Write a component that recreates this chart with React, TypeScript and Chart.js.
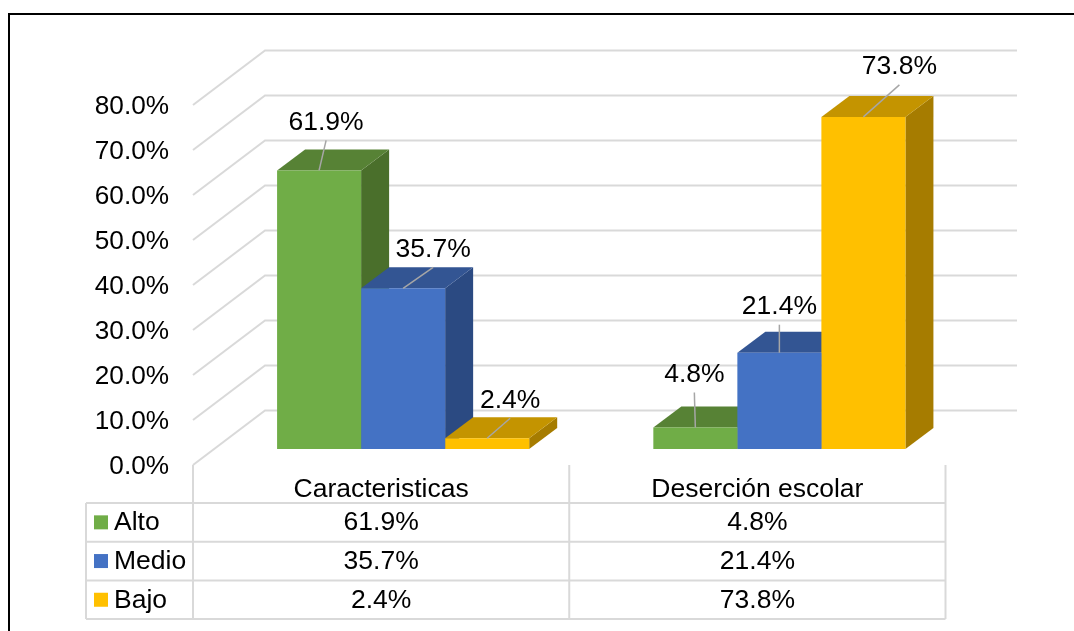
import React, { useEffect, useRef } from "react";
import { Chart, registerables } from "chart.js";

Chart.register(...registerables);

const categories = ["Caracteristicas", "Deserción escolar"];
const seriesNames = ["Alto", "Medio", "Bajo"];
const alto = [61.9, 4.8];
const medio = [35.7, 21.4];
const bajo = [2.4, 73.8];
const frontColors = ["#70AD47", "#4472C4", "#FFC000"];
const topColors = ["#578235", "#335593", "#C49400"];
const sideColors = ["#4A6F2B", "#2B4A82", "#A67C00"];

const FONT = '"Liberation Sans", Arial, sans-serif';
const FONT_SIZE = 26.5;
const TICK_FONT_SIZE = 26.2;
const LABEL_DY = 1;
const TABLE_DY = 0.8;
const GRID = "#D9D9D9";
const WALL = { dx: 72, dy: -54.5 };
const BAR_SHIFT = { dx: 22, dy: -16 };
const BAR_DEPTH = { dx: 28, dy: -21 };
const WALL_RIGHT = 1017;
const TABLE = { left: 86, top: 503, rowH: 38.7, axisLeft: 193, right: 945.5, keyX: 94, key: 14, textX: 114 };
// label-centre offsets from each bar's top-front centre: [series][category]
const labelOffsets = [
  [[7, -49], [-1, -54]],
  [[30, -40], [0, -47]],
  [[23, -39], [36, -51]],
];

const fmt = (v: number) => v.toFixed(1) + "%";

const plugin3d = {
  id: "plugin3d",
  beforeDraw(chart: any) {
    const { ctx, width, height } = chart;
    ctx.save();
    ctx.fillStyle = "#fff";
    ctx.fillRect(0, 0, width, height);
    ctx.strokeStyle = "#000";
    ctx.lineWidth = 2;
    ctx.beginPath();
    ctx.moveTo(9, height);
    ctx.lineTo(9, 14);
    ctx.lineTo(width, 14);
    ctx.stroke();
    ctx.restore();
  },
  beforeDatasetsDraw(chart: any) {
    const { ctx, chartArea, scales } = chart;
    ctx.save();
    ctx.strokeStyle = GRID;
    ctx.lineWidth = 2;
    scales.y.ticks.forEach((t: any) => {
      const y = scales.y.getPixelForValue(t.value);
      ctx.beginPath();
      ctx.moveTo(chartArea.left, y);
      ctx.lineTo(chartArea.left + WALL.dx, y + WALL.dy);
      ctx.lineTo(WALL_RIGHT, y + WALL.dy);
      ctx.stroke();
    });
    ctx.restore();

    // side and top faces of every bar, behind all of the front faces
    ctx.save();
    ctx.translate(BAR_SHIFT.dx, BAR_SHIFT.dy);
    chart.data.datasets.forEach((_: any, i: number) => {
      chart.getDatasetMeta(i).data.forEach((bar: any) => {
        const p = bar.getProps(["x", "y", "base", "width"], true);
        const l = p.x - p.width / 2;
        const r = p.x + p.width / 2;
        const d = BAR_DEPTH;
        ctx.fillStyle = sideColors[i];
        ctx.beginPath();
        ctx.moveTo(r, p.y);
        ctx.lineTo(r + d.dx, p.y + d.dy);
        ctx.lineTo(r + d.dx, p.base + d.dy);
        ctx.lineTo(r, p.base);
        ctx.closePath();
        ctx.fill();
        ctx.fillStyle = topColors[i];
        ctx.beginPath();
        ctx.moveTo(l, p.y);
        ctx.lineTo(l + d.dx, p.y + d.dy);
        ctx.lineTo(r + d.dx, p.y + d.dy);
        ctx.lineTo(r, p.y);
        ctx.closePath();
        ctx.fill();
      });
    });
    ctx.restore();
  },
  beforeDatasetDraw(chart: any) {
    chart.ctx.save();
    chart.ctx.translate(BAR_SHIFT.dx, BAR_SHIFT.dy);
  },
  afterDatasetDraw(chart: any) {
    chart.ctx.restore();
  },
  afterDatasetsDraw(chart: any) {
    const { ctx } = chart;
    ctx.save();
    ctx.font = `${FONT_SIZE}px ${FONT}`;
    ctx.textAlign = "center";
    ctx.textBaseline = "middle";
    chart.data.datasets.forEach((ds: any, i: number) => {
      chart.getDatasetMeta(i).data.forEach((bar: any, j: number) => {
        const p = bar.getProps(["x", "y"], true);
        const x0 = p.x + BAR_SHIFT.dx;
        const y0 = p.y + BAR_SHIFT.dy;
        const [ox, oy] = labelOffsets[i][j];
        ctx.strokeStyle = "#A6A6A6";
        ctx.lineWidth = 1.5;
        ctx.beginPath();
        ctx.moveTo(x0, y0);
        ctx.lineTo(x0 + ox, y0 + oy + 19);
        ctx.stroke();
        ctx.fillStyle = "#000";
        ctx.fillText(fmt(ds.data[j]), x0 + ox, y0 + oy + LABEL_DY);
      });
    });
    ctx.restore();
  },
  afterDraw(chart: any) {
    const { ctx, chartArea, scales } = chart;
    const T = TABLE;
    const bottom = T.top + T.rowH * seriesNames.length;
    const xs = scales.x;
    const mid = (xs.getPixelForValue(0) + xs.getPixelForValue(1)) / 2;
    ctx.save();
    ctx.strokeStyle = GRID;
    ctx.lineWidth = 2;
    ctx.beginPath();
    [T.axisLeft, mid, T.right].forEach((x) => {
      ctx.moveTo(x, chartArea.bottom);
      ctx.lineTo(x, bottom);
    });
    ctx.moveTo(T.left, T.top);
    ctx.lineTo(T.left, bottom);
    for (let r = 0; r <= seriesNames.length; r++) {
      ctx.moveTo(T.left, T.top + r * T.rowH);
      ctx.lineTo(T.right, T.top + r * T.rowH);
    }
    ctx.stroke();
    ctx.font = `${FONT_SIZE}px ${FONT}`;
    ctx.textBaseline = "middle";
    chart.data.datasets.forEach((ds: any, i: number) => {
      const y = T.top + (i + 0.5) * T.rowH;
      ctx.fillStyle = frontColors[i];
      ctx.fillRect(T.keyX, y - T.key / 2, T.key, T.key);
      ctx.fillStyle = "#000";
      ctx.textAlign = "left";
      ctx.fillText(ds.label, T.textX, y + TABLE_DY);
      ctx.textAlign = "center";
      ds.data.forEach((v: number, j: number) => {
        ctx.fillText(fmt(v), xs.getPixelForValue(j), y + TABLE_DY);
      });
    });
    ctx.restore();
  },
};

export default function App() {
  const ref = useRef<HTMLCanvasElement>(null);
  useEffect(() => {
    const series = [alto, medio, bajo];
    const chart = new Chart(ref.current!, {
      type: "bar",
      data: {
        labels: categories,
        datasets: series.map((data, i) => ({
          label: seriesNames[i],
          data,
          backgroundColor: frontColors[i],
          clip: false as any,
        })),
      },
      options: {
        animation: false,
        responsive: false,
        layout: { padding: { top: 105, right: 1074 - TABLE.right, left: 0, bottom: 0 } },
        plugins: { legend: { display: false }, tooltip: { enabled: false } },
        datasets: { bar: { categoryPercentage: 0.67, barPercentage: 1 } },
        scales: {
          x: {
            grid: { display: false, drawTicks: false },
            border: { display: false },
            ticks: { color: "#000", font: { family: FONT, size: FONT_SIZE }, padding: 9, maxRotation: 0 },
            afterFit(axis: any) { axis.height = 631 - 105 - 360; },
          },
          y: {
            min: 0,
            max: 80,
            grid: { display: false, drawTicks: false },
            border: { display: false },
            ticks: {
              stepSize: 10,
              color: "#000",
              font: { family: FONT, size: TICK_FONT_SIZE },
              padding: 24,
              labelOffset: 1.5,
              callback: (v: any) => fmt(Number(v)),
            },
            afterFit(axis: any) { axis.width = TABLE.axisLeft; },
          },
        },
      },
      plugins: [plugin3d],
    } as any);
    return () => chart.destroy();
  }, []);
  return (
    <div style={{ position: "fixed", left: 0, top: 0, width: 1074, height: 631, background: "#fff" }}>
      <canvas ref={ref} width={1074} height={631} style={{ display: "block", width: 1074, height: 631 }} />
    </div>
  );
}
